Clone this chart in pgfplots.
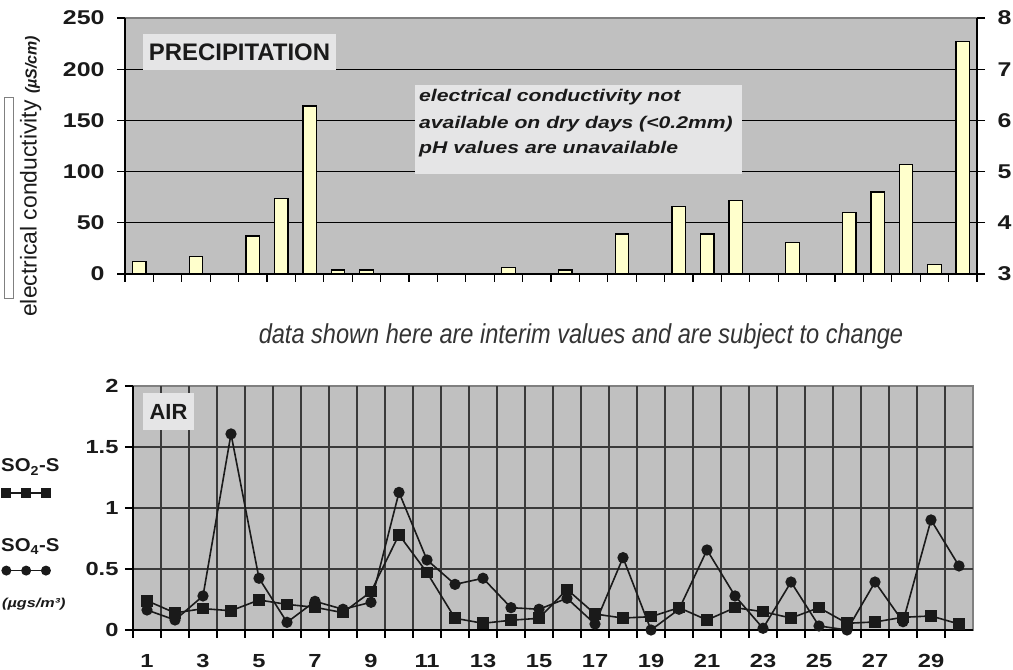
\documentclass[border=0pt]{standalone}
\usepackage{pgfplots}
\pgfplotsset{compat=1.18}
\usepackage{fontspec}
\setmainfont{Liberation Sans}
\newfontfamily\widefont{Liberation Sans}[FakeStretch=1.25]
\newfontfamily\midfont{Liberation Sans}[FakeStretch=1.1]
\newfontfamily\narrowfont{Liberation Sans}[FakeStretch=0.86]
\definecolor{plotbg}{HTML}{C0C0C0}
\definecolor{boxbg}{HTML}{E5E5E6}
\definecolor{barfill}{HTML}{FFFFCC}
\definecolor{framec}{HTML}{808080}
\definecolor{gridc}{HTML}{3A3A3A}
\definecolor{inkc}{HTML}{1A1A1A}

\pgfplotsset{
  panel/.style={
    scale only axis, anchor=south west,
    xmin=0.5, xmax=30.5,
    axis line style={black, line width=1.2bp, -},
    tick style={black, line width=1.2bp},
    tick align=outside,
    major tick length=8bp,
    every tick label/.append style={text=inkc},
    /pgf/number format/assume math mode=true,
    clip=false,
  },
  keyline/.style={legend image code/.code={\draw plot coordinates {(0bp,0bp) (19.8bp,0bp) (39.6bp,0bp)};}},
  keybox/.style={legend image code/.code={\draw[fill=white, draw=framec, line width=0.8bp] (0bp,0bp) rectangle (9bp,-201bp);}},
}

\begin{document}
\begin{tikzpicture}[x=1bp, y=1bp]
\useasboundingbox (0,0) rectangle (1013,670);

% precipitation: conductivity bars
\begin{axis}[panel,
  at={(125bp,396bp)}, width=852bp, height=256bp,
  ymin=0, ymax=250,
  axis background/.style={fill=plotbg, draw=framec, line width=1.2bp},
  axis x line*=bottom, axis y line*=left,
  xtick={0.5,1.5,...,30.5}, xticklabels={,,},
  ytick={0,50,...,200}, extra y ticks={250}, extra y tick style={grid=none},
  ymajorgrids, major grid style={black, line width=1.2bp},
  yticklabel style={font=\fontsize{20}{20}\widefont\bfseries, xshift=-9bp},
  legend style={at={(-0.1420,0.6953)}, anchor=north west, draw=none, fill=none,
    inner sep=0pt, nodes={inner sep=0pt}},
]
\addplot[ybar, bar width=13.5bp, fill=barfill, draw=black, line width=1.3bp, forget plot] coordinates {
 (1,12) (3,17) (5,37) (6,74) (7,164) (8,4) (9,4) (14,6) (16,4) (18,39)
 (20,66) (21,39) (22,72) (24,31) (26,60) (27,80) (28,107) (29,9) (30,227)
};
\addlegendimage{keybox}
\addlegendentry{}
\end{axis}

% pH scale on the right
\begin{axis}[panel,
  at={(125bp,396bp)}, width=852bp, height=256bp,
  ymin=3, ymax=8,
  axis x line=none, axis y line*=right,
  ytick={3,4,...,8},
  yticklabel style={font=\fontsize{20}{20}\widefont\bfseries, xshift=9bp},
]
\end{axis}

% air: SO2-S and SO4-S
\begin{axis}[panel,
  at={(133bp,40bp)}, width=840bp, height=244bp,
  ymin=0, ymax=2,
  axis background/.style={fill=plotbg, draw=framec, line width=1.2bp},
  axis x line*=bottom, axis y line*=left,
  xtick={0.5,1.5,...,29.5},
  xticklabels={1,,3,,5,,7,,9,,11,,13,,15,,17,,19,,21,,23,,25,,27,,29,},
  xmajorgrids,
  ytick={0,0.5,1,1.5}, extra y ticks={2}, extra y tick style={grid=none},
  ymajorgrids, major grid style={gridc, line width=1.2bp},
  yticklabel style={font=\fontsize{19}{19}\widefont\bfseries, xshift=-3bp},
  xticklabel style={font=\fontsize{19}{19}\widefont\bfseries, xshift=14bp, yshift=-12.5bp},
  legend style={at={(-0.1560,0.5787)}, anchor=north west, draw=none, fill=none,
    inner sep=0pt, row sep=69bp, nodes={inner sep=0pt}},
]
% SO4-S
\addplot[inkc, line width=1.6bp, mark=*, mark size=4.8bp, forget plot] coordinates {
 (1,0.164) (2,0.082) (3,0.279) (4,1.607) (5,0.424) (6,0.063) (7,0.235) (8,0.170)
 (9,0.227) (10,1.128) (11,0.574) (12,0.374) (13,0.424) (14,0.183) (15,0.170)
 (16,0.260) (17,0.049) (18,0.593) (19,0.000) (20,0.170) (21,0.656) (22,0.279)
 (23,0.014) (24,0.393) (25,0.033) (26,0.000) (27,0.393) (28,0.068) (29,0.902) (30,0.525)
};
% SO2-S
\addplot[inkc, line width=1.6bp, mark=square*, mark size=5bp, forget plot] coordinates {
 (1,0.240) (2,0.140) (3,0.175) (4,0.158) (5,0.246) (6,0.210) (7,0.186) (8,0.142)
 (9,0.314) (10,0.781) (11,0.470) (12,0.096) (13,0.055) (14,0.080) (15,0.096)
 (16,0.333) (17,0.131) (18,0.098) (19,0.109) (20,0.183) (21,0.082) (22,0.183)
 (23,0.150) (24,0.098) (25,0.183) (26,0.055) (27,0.066) (28,0.104) (29,0.115) (30,0.049)
};
\addlegendimage{inkc, line width=1.5bp, mark=square*, mark size=4.2bp, keyline}
\addlegendentry{}
\addlegendimage{inkc, line width=1.5bp, mark=*, mark size=4.2bp, keyline}
\addlegendentry{}
\end{axis}

% labels and boxes
\fill[boxbg] (143,600) rectangle (336,636);
\node[font=\fontsize{24}{24}\selectfont\bfseries, text=inkc] at (239.5,618) {PRECIPITATION};

\fill[boxbg] (415,496) rectangle (742,585);
\begin{scope}[every node/.style={anchor=base west, inner sep=0pt, text=inkc,
    font=\fontsize{17}{17}\widefont\bfseries\itshape}]
\node at (419,568.3) {electrical conductivity not};
\node at (419,541.7) {available on dry days (<0.2mm)};
\node at (419,516.7) {pH values are unavailable};
\end{scope}

\fill[boxbg] (143,240) rectangle (194,277);
\node[font=\fontsize{22}{22}\selectfont\bfseries, text=inkc] at (168.5,258.5) {AIR};

\node[anchor=base, inner sep=0pt, text=black!80, font=\fontsize{27.5}{27.5}\narrowfont\itshape]
  at (581,326) {data shown here are interim values and are subject to change};

\node[rotate=90, anchor=base west, inner sep=0pt, text=inkc, font=\fontsize{23}{23}\selectfont]
  at (36.5,353) {electrical conductivity {\fontsize{16}{16}\selectfont\bfseries\itshape (µS/cm)}};

\node[anchor=base west, inner sep=0pt, text=inkc, font=\fontsize{18.6}{18.6}\midfont\bfseries]
  at (1,198) {SO\textsubscript{2}-S};
\node[anchor=base west, inner sep=0pt, text=inkc, font=\fontsize{18.6}{18.6}\midfont\bfseries]
  at (1,118) {SO\textsubscript{4}-S};
\node[anchor=base west, inner sep=0pt, text=inkc, font=\fontsize{13}{13}\widefont\bfseries\itshape]
  at (2,62) {(µgs/m³)};
\end{tikzpicture}
\end{document}
